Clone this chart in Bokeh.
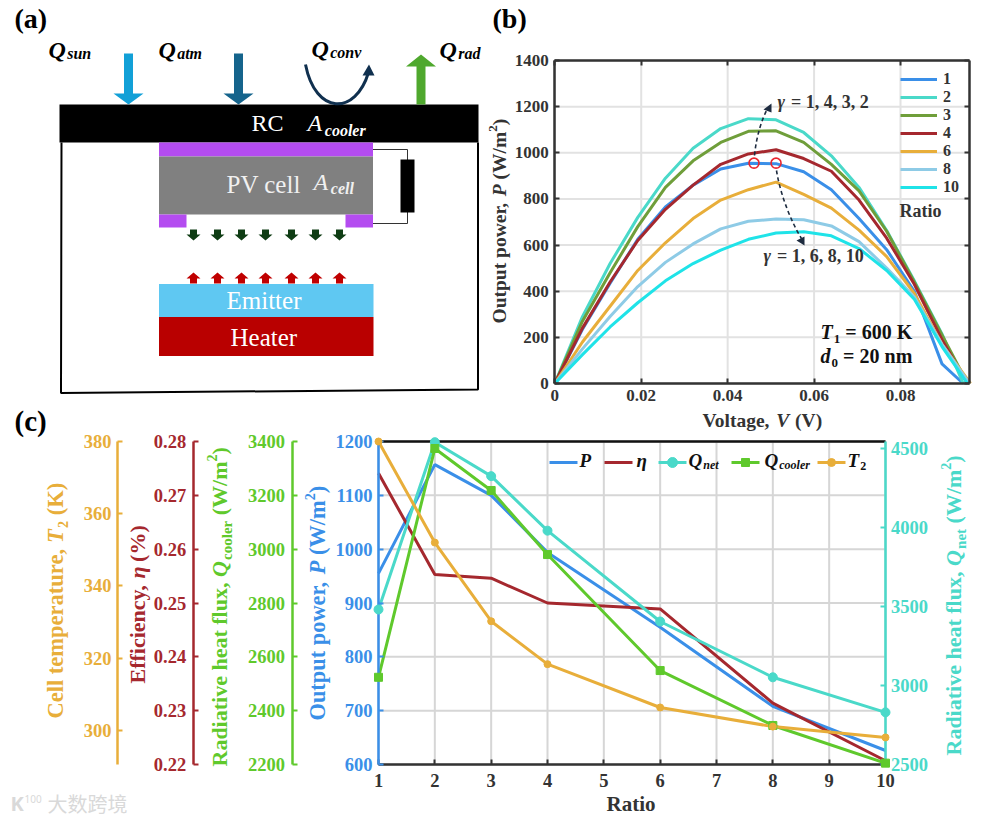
import math
from bokeh.plotting import figure
from bokeh.models import Range1d, LinearAxis, FixedTicker, Label, Legend, LegendItem
from bokeh.embed import file_html
from bokeh.resources import INLINE

# ---------- panel (b) data ----------
voltage = [0, 0.0064, 0.0128, 0.0192, 0.0256, 0.032, 0.0384, 0.0448, 0.0512, 0.0576, 0.064, 0.0704, 0.0768, 0.0832, 0.0896]
end_voltage = {"1": 0.0945, "2": 0.0945, "3": 0.0955, "4": 0.0955, "6": 0.0962, "8": 0.096, "10": 0.0955}
power_1 = [0, 235, 435, 625, 765, 860, 930, 955, 953, 918, 840, 715, 580, 400, 85, 0]
power_2 = [0, 290, 520, 720, 890, 1020, 1105, 1148, 1143, 1088, 987, 850, 663, 445, 215, 0]
power_3 = [0, 270, 480, 680, 850, 965, 1045, 1093, 1095, 1045, 950, 835, 660, 440, 210, 0]
power_4 = [0, 240, 440, 620, 755, 860, 950, 995, 1013, 975, 920, 795, 630, 430, 190, 0]
power_6 = [0, 180, 335, 490, 610, 715, 795, 840, 873, 820, 760, 665, 550, 390, 170, 0]
power_8 = [0, 150, 290, 420, 525, 605, 670, 703, 713, 710, 683, 615, 500, 375, 170, 0]
power_10 = [0, 125, 245, 350, 445, 520, 578, 625, 652, 658, 640, 585, 490, 365, 160, 0]
mpp_voltage = [0.0461, 0.0512]
mpp_power = [955, 955]
v_ticks = [0, 0.02, 0.04, 0.06, 0.08]
p_ticks = [0, 200, 400, 600, 800, 1000, 1200, 1400]

# ---------- panel (c) data ----------
ratio = [1, 2, 3, 4, 6, 8, 10]
p_out = [955, 1157, 1100, 994, 855, 708, 626]
eta = [0.2741, 0.2553, 0.2546, 0.25, 0.2489, 0.2314, 0.2207]
q_net = [3481, 4540, 4325, 3980, 3405, 3052, 2830]
q_cooler = [2524, 3374, 3218, 2980, 2549, 2345, 2205]
t_2 = [380, 352, 330.2, 318.3, 306.3, 301, 298]
ratio_ticks = [1, 2, 3, 4, 5, 6, 7, 8, 9, 10]
p_ticks_c = [600, 700, 800, 900, 1000, 1100, 1200]
eta_ticks = [0.22, 0.23, 0.24, 0.25, 0.26, 0.27, 0.28]
cool_ticks = [2200, 2400, 2600, 2800, 3000, 3200, 3400]
t_ticks = [300, 320, 340, 360, 380]
net_ticks = [2500, 3000, 3500, 4000, 4500]

BLUE, RED, TEAL, GREEN, GOLD = "#3a8fe8", "#a5282e", "#4ad9c9", "#5fc92c", "#e8ae3a"
OLIVE, LIGHT, CYAN = "#6f9e3a", "#8ecbe6", "#1fe3e8"
DARK = "#333333"
FONT = "Liberation Serif"
BI = "bold italic"
CW, CH = 983, 821

W = {" ": 250, ",": 250, ".": 250, "(": 333, ")": 333, "/": 278, "=": 570, "%": 1000,
     "A": 722, "C": 722, "E": 667, "H": 778, "K": 778, "O": 778, "P": 611, "Q": 778, "R": 722, "T": 667,
     "V": 722, "W": 1000, "a": 500, "b": 556, "c": 444, "d": 556, "e": 444, "f": 333, "g": 500, "h": 556,
     "i": 278, "j": 333, "k": 556, "l": 278, "m": 833, "n": 556, "o": 500, "p": 556, "q": 556, "r": 444,
     "s": 389, "t": 333, "u": 556, "v": 500, "w": 722, "x": 500, "y": 500, "z": 444}
BASE_FIX = 0.36

# One canvas-wide frame: the default ranges are page pixels, every panel scale is a named range.
f = figure(width=CW, height=CH, x_range=Range1d(0, CW), y_range=Range1d(CH, 0), output_backend="svg",
           toolbar_location=None, x_axis_type=None, y_axis_type=None, min_border=0,
           background_fill_color="white", border_fill_color="white")
f.grid.visible = False
f.outline_line_color = None


def x_scale(name, v0, px0, v1, px1):
    k = (v1 - v0) / (px1 - px0)
    f.extra_x_ranges[name] = Range1d(v0 + (0 - px0) * k, v0 + (CW - px0) * k)


def y_scale(name, v0, px0, v1, px1):
    k = (v1 - v0) / (px1 - px0)
    f.extra_y_ranges[name] = Range1d(v0 + (CH - px0) * k, v0 + (0 - px0) * k)


def rich(x, y, parts, color="black", angle=0):
    """parts: (text, size, style, baseline shift upwards); x, y are page pixels of the baseline start."""
    a = math.radians(angle)
    for text, size, style, shift in parts:
        shown = text.lstrip(" ")
        lead = (len(text) - len(shown)) * W[" "] * size / 1000
        x += math.cos(a) * lead
        y -= math.sin(a) * lead
        up = shift + BASE_FIX * size
        f.add_layout(Label(x=x - math.sin(a) * up, y=y - math.cos(a) * up, text=shown, text_font=FONT,
                           text_font_size=f"{size}px", text_font_style=style, text_color=color,
                           text_align="left", text_baseline="alphabetic", angle=a))
        adv = sum(W.get(ch, 500) for ch in shown) * size / 1000
        x += math.cos(a) * adv
        y -= math.sin(a) * adv


def rect(l, r, t, b, col):
    f.quad(left=[l], right=[r], top=[t], bottom=[b], fill_color=col, line_color=None)


def vert_arrow(cx, tail, neck, tip, sw, hw, col):
    f.patch([cx - sw, cx + sw, cx + sw, cx + hw, cx, cx - hw, cx - sw],
            [tail, tail, neck, neck, tip, neck, neck], fill_color=col, line_color=None)


def axis(side, loc, ticks, bounds, col, size, x_name=None, y_name=None, labels=True, standoff=6, tick_w=2, line_w=2.5):
    kw = {}
    if x_name:
        kw["x_range_name"] = x_name
    if y_name:
        kw["y_range_name"] = y_name
    ax = LinearAxis(fixed_location=loc, bounds=bounds, ticker=FixedTicker(ticks=ticks), **kw)
    ax.axis_line_color = col
    ax.axis_line_width = line_w
    ax.major_tick_line_color = col
    ax.major_tick_line_width = tick_w
    ax.major_tick_in = 5
    ax.major_tick_out = 0
    ax.minor_tick_line_color = None
    ax.major_label_text_font = FONT
    ax.major_label_text_font_style = "bold"
    ax.major_label_text_font_size = f"{size}px"
    ax.major_label_text_color = col if labels else None
    ax.major_label_standoff = standoff
    f.add_layout(ax, side)
    return ax


# ===================== panel (a) =====================
f.line([61, 60.5, 477.5, 477.5], [142, 392.5, 389, 142], line_color="black", line_width=2)
rect(59, 478, 104, 142, "#000000")
rect(158.5, 372.5, 142, 156, "#b44cf0")
rect(158.5, 372.5, 156, 214, "#808080")
rect(158.5, 186, 214, 227, "#b44cf0")
rect(345, 372.5, 214, 227, "#b44cf0")
f.line([372.5, 407, 407, 372.5], [149, 149, 223, 223], line_color="#333333", line_width=1)
rect(400, 414, 159, 212, "#000000")
rect(158.5, 373, 283.5, 316.5, "#5fc8f2")
rect(158.5, 373, 316.5, 355.5, "#b90000")
for cx in [193, 217, 241, 265, 291, 315, 339]:
    vert_arrow(cx, 229, 234, 240, 3.5, 7, "#0f3d14")
    vert_arrow(cx, 283, 278, 272, 3.5, 7, "#c00000")
vert_arrow(128, 53, 93, 104, 4.5, 15, "#12a0d7")
vert_arrow(238, 53, 93, 104, 4.5, 15, "#15648c")
vert_arrow(420.5, 104, 66, 54, 4.5, 15, "#4fa82e")
f.bezier(x0=[305], y0=[64], x1=[368], y1=[72], cx0=[315], cy0=[115], cx1=[355], cy1=[115],
         line_color="#10304f", line_width=3)
f.patch([368.5, 362, 374], [64, 75, 75], fill_color="#10304f", line_color=None)

rich(14, 28, [("(a)", 28, "bold", 0)])
rich(48, 58, [("Q", 24, BI, 0), ("sun", 16, BI, -1)])
rich(158, 58, [("Q", 24, BI, 0), ("atm", 16, BI, -1)])
rich(311, 57, [("Q", 24, BI, 0), ("conv", 16, BI, -1)])
rich(439, 58, [("Q", 24, BI, 0), ("rad", 16, BI, -1)])
rich(251, 131, [("RC", 24, "normal", 0)], color="white")
rich(307, 131, [("A", 24, "italic", 0), ("cooler", 16, BI, -5)], color="white")
rich(226, 193, [("PV cell", 25, "normal", 0)], color="#f0f0f0")
rich(313, 190, [("A", 24, "italic", 0), ("cell", 16, BI, -4)], color="#f0f0f0")
rich(226, 309, [("Emitter", 25, "normal", 0)], color="white")
rich(230, 346, [("Heater", 25, "normal", 0)], color="white")

# ===================== panel (b) =====================
x_scale("b_v", 0, 554.3, 0.08, 900)
y_scale("b_p", 0, 383, 1400, 60)
NB = dict(x_range_name="b_v", y_range_name="b_p")
f.segment(x0=v_ticks, y0=[0] * 5, x1=v_ticks, y1=[1400] * 5, line_color="#e2e2e2", line_width=2, **NB)
f.segment(x0=[0] * 8, y0=p_ticks, x1=[0.096] * 8, y1=p_ticks, line_color="#e2e2e2", line_width=2, **NB)

xb = axis("below", 383, v_ticks, (0, 0.096), DARK, 17, x_name="b_v")
xb.major_label_overrides = {0: "0", 0.02: "0.02", 0.04: "0.04", 0.06: "0.06", 0.08: "0.08"}
axis("left", 554.3, p_ticks, (0, 1400), DARK, 17, y_name="b_p")
axis("above", 60, v_ticks, (0, 0.096), DARK, 1, x_name="b_v", labels=False, standoff=0)
axis("right", 969, p_ticks, (0, 1400), DARK, 1, y_name="b_p", labels=False, standoff=0)

series_b = [("1", power_1, BLUE), ("2", power_2, TEAL), ("3", power_3, OLIVE), ("4", power_4, RED),
            ("6", power_6, GOLD), ("8", power_8, LIGHT), ("10", power_10, CYAN)]
items = []
for name, vals, col in series_b:
    r = f.line(voltage + [end_voltage[name]], vals, line_color=col, line_width=3, **NB)
    items.append(LegendItem(label=name, renderers=[r]))
f.add_layout(Legend(items=items, location=(900, CH - 196), background_fill_alpha=0, border_line_color=None, padding=0,
                    margin=0, glyph_width=37, glyph_height=14, label_height=14, spacing=0, label_standoff=6,
                    label_text_font=FONT, label_text_font_style="bold", label_text_font_size="16px",
                    label_text_color=DARK), "center")
f.scatter(mpp_voltage, mpp_power, marker="circle", size=10, fill_color=None, line_color="#e8252f", line_width=1.6, **NB)

ARW = "#1d2b3f"
f.bezier(x0=[754], y0=[155], x1=[767], y1=[108], cx0=[756], cy0=[135], cx1=[761], cy1=[120],
         line_color=ARW, line_width=1.6, line_dash="4 3")
f.patch([771, 763, 771], [103, 109, 112], fill_color=ARW, line_color=None)
f.bezier(x0=[776], y0=[170], x1=[801], y1=[238], cx0=[780], cy0=[195], cx1=[791], cy1=[222],
         line_color=ARW, line_width=1.6, line_dash="4 3")
f.patch([804, 796, 804], [245, 240, 236], fill_color=ARW, line_color=None)

rich(492, 28, [("(b)", 28, "bold", 0)])
rich(506, 323, [("Output power, ", 19.5, "bold", 0), ("P", 19.5, BI, 0), (" (W/m", 19.5, "bold", 0), ("2", 13, "bold", 9), (")", 19.5, "bold", 0)], angle=90, color=DARK)
rich(702, 427, [("Voltage, ", 19.5, "bold", 0), ("V", 19.5, BI, 0), (" (V)", 19.5, "bold", 0)], color=DARK)
rich(777, 108, [("\u03b3", 18, BI, 0), (" = 1, 4, 3, 2", 18, "bold", 0)], color=DARK)
rich(763, 262, [("\u03b3", 18, BI, 0), (" = 1, 6, 8, 10", 18, "bold", 0)], color=DARK)
rich(899, 217, [("Ratio", 18, "bold", 0)], color=DARK)
rich(820, 339, [("T", 20, BI, 0), ("1", 13, "bold", -4), (" = 600 K", 20, "bold", 0)], color="#111111")
rich(820, 363, [("d", 20, BI, 0), ("0", 13, "bold", -4), (" = 20 nm", 20, "bold", 0)], color="#111111")

# ===================== panel (c) =====================
x_scale("c_r", 1, 378, 10, 885)
y_scale("c_p", 600, 764, 1200, 441)
y_scale("c_eta", 0.22, 764, 0.28, 441)
y_scale("c_cool", 2200, 764, 3400, 441)
y_scale("c_t", 290.5, 764, 380, 441)
y_scale("c_net", 2500, 764, 4500, 448)

f.segment(x0=ratio_ticks, y0=[600] * 10, x1=ratio_ticks, y1=[1200] * 10, x_range_name="c_r", y_range_name="c_p",
          line_color="#d6d6d6", line_width=2)
f.segment(x0=[1] * 7, y0=p_ticks_c, x1=[10] * 7, y1=p_ticks_c, x_range_name="c_r", y_range_name="c_p",
          line_color="#d6d6d6", line_width=2)
f.line([1, 10], [1200, 1200], x_range_name="c_r", y_range_name="c_p", line_color="#111111", line_width=2.5)

axis("below", 764, ratio_ticks, (1, 10), DARK, 18.5, x_name="c_r", standoff=9)
axis("left", 378, p_ticks_c, (600, 1200), BLUE, 18.5, y_name="c_p")
axis("left", 291.5, cool_ticks, (2200, 3400), GREEN, 18.5, y_name="c_cool", standoff=7)
axis("left", 192.7, eta_ticks, (0.22, 0.28), RED, 18.5, y_name="c_eta", standoff=7)
axis("left", 117, t_ticks, (290.5, 380), GOLD, 18.5, y_name="c_t")
axis("right", 884.5, net_ticks, (2500, 4544), TEAL, 18.5, y_name="c_net")

NC = dict(x_range_name="c_r")
f.line(ratio, p_out, y_range_name="c_p", line_color=BLUE, line_width=3, **NC)
f.line(ratio, eta, y_range_name="c_eta", line_color=RED, line_width=3, **NC)
f.line(ratio, q_net, y_range_name="c_net", line_color=TEAL, line_width=3, **NC)
f.scatter(ratio, q_net, y_range_name="c_net", marker="circle", size=9, fill_color=TEAL, line_color=TEAL, level="overlay", **NC)
f.line(ratio, q_cooler, y_range_name="c_cool", line_color=GREEN, line_width=3, **NC)
f.scatter(ratio, q_cooler, y_range_name="c_cool", marker="square", size=8, fill_color=GREEN, line_color=GREEN, level="overlay", **NC)
f.line(ratio, t_2, y_range_name="c_t", line_color=GOLD, line_width=3, **NC)
f.scatter(ratio, t_2, y_range_name="c_t", marker="circle", size=7, fill_color=GOLD, line_color=GOLD, level="overlay", **NC)

# legend of panel (c): keys and mixed italic/subscript labels
LEG_Y = [462, 462]
f.line([549, 577], LEG_Y, line_color=BLUE, line_width=3)
f.line([604, 632], LEG_Y, line_color=RED, line_width=3)
f.line([658, 686], LEG_Y, line_color=TEAL, line_width=3)
f.scatter([672], [462], marker="circle", size=10, fill_color=TEAL, line_color=TEAL)
f.line([731, 759], LEG_Y, line_color=GREEN, line_width=3)
f.scatter([745], [462], marker="square", size=8, fill_color=GREEN, line_color=GREEN)
f.line([817, 845], LEG_Y, line_color=GOLD, line_width=3)
f.scatter([831], [462], marker="circle", size=8, fill_color=GOLD, line_color=GOLD)
rich(579, 467, [("P", 19, BI, 0)], color="#111111")
rich(636, 467, [("\u03b7", 19, BI, 0)], color="#111111")
rich(688, 467, [("Q", 19, BI, 0), ("net", 12, BI, -2)], color="#111111")
rich(764, 467, [("Q", 19, BI, 0), ("cooler", 12, BI, -2)], color="#111111")
rich(847, 467, [("T", 19, BI, 0), ("2", 12, "bold", -3)], color="#111111")

rich(14, 431, [("(c)", 29, "bold", 0)])
rich(606, 811, [("Ratio", 21, "bold", 0)], color=DARK)
rich(325, 720, [("Output power, ", 22.4, "bold", 0), ("P", 22.4, BI, 0), (" (W/m", 22.4, "bold", 0), ("2", 14, "bold", 10), (")", 22.4, "bold", 0)], angle=90, color=BLUE)
rich(227, 766, [("Radiative heat flux, ", 22, "bold", 0), ("Q", 22, BI, 0), ("cooler", 15, "bold", -5), (" (W/m", 22, "bold", 0), ("2", 14, "bold", 10), (")", 22, "bold", 0)], angle=90, color=GREEN)
rich(144.5, 683, [("Efficiency, ", 22, "bold", 0), ("\u03b7", 22, BI, 0), (" (%)", 22, "bold", 0)], angle=90, color=RED)
rich(63, 718, [("Cell temperature, ", 22.5, "bold", 0), ("T", 22.5, BI, 0), ("2", 14, "bold", -5), (" (K)", 22.5, "bold", 0)], angle=90, color=GOLD)
rich(961, 755, [("Radiative heat flux, ", 22, "bold", 0), ("Q", 22, BI, 0), ("net", 15, "bold", -5), (" (W/m", 22, "bold", 0), ("2", 14, "bold", 10), (")", 22, "bold", 0)], angle=90, color=TEAL)

# faint watermark at the bottom left
for txt, lx, ly, fnt, sz, sty in (("\u5927\u6570\u8de8\u5883", 47, 803, "Noto Sans CJK SC", 20, "normal"),
                                  ("K", 10, 803, "Noto Sans", 20, "bold"),
                                  ("100", 24, 798, "Noto Sans", 10, "normal")):
    f.add_layout(Label(x=lx, y=ly, text=txt, text_font=fnt, text_font_size=f"{sz}px", text_font_style=sty,
                       text_color="#d9d9d9", text_baseline="alphabetic"))

open("out.html", "w").write(file_html(f, INLINE))
